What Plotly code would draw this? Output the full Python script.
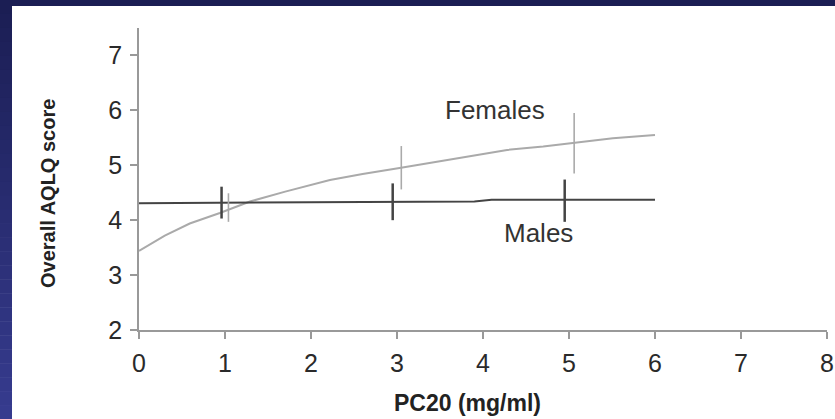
import plotly.graph_objects as go

# ---- data ----
female_x = [0, 0.3, 0.59, 0.94, 1.29, 1.7, 2.22, 2.6, 3.03, 3.38, 3.8, 4.28, 4.7, 5.05, 5.51, 6.0]
female_y = [3.44, 3.72, 3.94, 4.13, 4.34, 4.52, 4.73, 4.84, 4.95, 5.04, 5.15, 5.28, 5.34, 5.40, 5.49, 5.55]

male_x = [0, 1, 2, 3, 3.9, 4.1, 5, 6]
male_y = [4.31, 4.32, 4.33, 4.34, 4.34, 4.37, 4.37, 4.37]

female_bar_x = [1.04, 3.05, 5.06]
female_bar_low = [3.97, 4.56, 4.85]
female_bar_high = [4.49, 5.35, 5.95]

male_bar_x = [0.96, 2.95, 4.95]
male_bar_low = [4.03, 4.00, 3.97]
male_bar_high = [4.61, 4.67, 4.74]

x_ticks = [0, 1, 2, 3, 4, 5, 6, 7, 8]
y_ticks = [2, 3, 4, 5, 6, 7]

FONT = "Liberation Sans, Arial, sans-serif"
FEMALE_C = "#aaaaaa"
MALE_C = "#444444"

fig = go.Figure()

fig.add_trace(go.Scatter(x=female_x, y=female_y, mode="lines",
                         line=dict(color=FEMALE_C, width=2), showlegend=False, hoverinfo="skip"))
fig.add_trace(go.Scatter(x=male_x, y=male_y, mode="lines",
                         line=dict(color=MALE_C, width=2), showlegend=False, hoverinfo="skip"))


def bar_trace(xs, lows, highs, color, thickness):
    mids = [(l + h) / 2 for l, h in zip(lows, highs)]
    plus = [h - m for h, m in zip(highs, mids)]
    minus = [m - l for l, m in zip(lows, mids)]
    return go.Scatter(x=xs, y=mids, mode="markers", marker=dict(size=1, opacity=0),
                      error_y=dict(type="data", symmetric=False, array=plus, arrayminus=minus,
                                   color=color, thickness=thickness, width=0),
                      showlegend=False, hoverinfo="skip")


fig.add_trace(bar_trace(female_bar_x, female_bar_low, female_bar_high, FEMALE_C, 1.6))
fig.add_trace(bar_trace(male_bar_x, male_bar_low, male_bar_high, MALE_C, 2.5))

fig.add_annotation(x=4.14, y=6.01, text="Females", showarrow=False,
                   font=dict(family=FONT, size=26, color="#333333"))
fig.add_annotation(x=4.64, y=3.77, text="Males", showarrow=False,
                   font=dict(family=FONT, size=26, color="#333333"))

# ---- geometry ----
L, R, T, B = 139, 8, 28, 89
W, H = 835, 419
pw, ph = W - L - R, H - T - B


def px2x(px):
    return (px - L) / pw


def py2y(py):
    return (H - B - py) / ph


# axis titles placed as paper annotations
fig.add_annotation(xref="paper", yref="paper", x=px2x(48), y=py2y(193), text="<b>Overall AQLQ score</b>",
                   textangle=-90, showarrow=False, xanchor="center", yanchor="middle",
                   font=dict(family=FONT, size=20, color="#222222"))
fig.add_annotation(xref="paper", yref="paper", x=px2x(467), y=py2y(403), text="<b>PC20 (mg/ml)</b>",
                   showarrow=False, xanchor="center", yanchor="middle",
                   font=dict(family=FONT, size=23, color="#222222"))

# ---- dark frame (top strip + left gradient strip) ----
shapes = []
shapes.append(dict(type="rect", xref="paper", yref="paper", x0=px2x(0), x1=px2x(W), y0=py2y(6), y1=py2y(0),
                   fillcolor="#1b1e54", line=dict(width=0), layer="above"))
n = 30
c0 = (0x1b, 0x1e, 0x54)
c1 = (0x36, 0x3b, 0x8e)
for i in range(n):
    t = i / (n - 1)
    c = tuple(int(round(a + (b - a) * t)) for a, b in zip(c0, c1))
    ya = H * i / n
    yb = H * (i + 1) / n + 0.5
    shapes.append(dict(type="rect", xref="paper", yref="paper", x0=px2x(0), x1=px2x(12),
                       y0=py2y(yb), y1=py2y(ya), fillcolor="rgb(%d,%d,%d)" % c,
                       line=dict(width=0), layer="above"))

axis_common = dict(showgrid=False, zeroline=False, showline=True, linecolor="#999999", linewidth=1.5,
                   ticks="outside", ticklen=7, tickcolor="#999999", tickwidth=1.5, automargin=False,
                   ticklabelstandoff=3,
                   tickfont=dict(family=FONT, size=25, color="#2a2a2a"))

fig.update_layout(
    width=W, height=H,
    margin=dict(l=L, r=R, t=T, b=B, pad=0, autoexpand=False),
    paper_bgcolor="white", plot_bgcolor="white",
    shapes=shapes,
    xaxis=dict(range=[0, 8], tickvals=x_ticks, ticktext=[str(v) for v in x_ticks], **axis_common),
    yaxis=dict(range=[2, 7.5], tickvals=y_ticks, ticktext=[str(v) for v in y_ticks], **axis_common),
)

fig.write_html("out.html", config={"displayModeBar": False},
               post_script="document.body.style.margin='0';document.body.style.overflow='hidden';")
